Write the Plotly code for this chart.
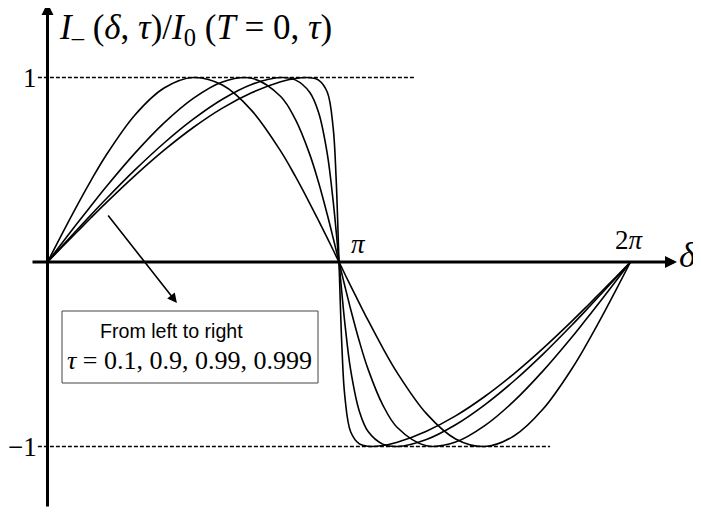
import plotly.graph_objects as go

# phase difference delta, in units of pi
delta = [0, 0.05, 0.1, 0.15, 0.2, 0.3, 0.4, 0.5, 0.6, 0.7, 0.8, 0.85, 0.9, 0.93, 0.96, 0.98, 0.99, 1.0,
         1.01, 1.02, 1.04, 1.07, 1.1, 1.15, 1.2, 1.3, 1.4, 1.5, 1.6, 1.7, 1.8, 1.85, 1.9, 1.95, 2.0]

# I_-(delta, tau) / I_0(T=0, tau)
cur_t01 = [0, 0.153, 0.302, 0.444, 0.576, 0.797, 0.943, 1.000, 0.959, 0.822, 0.601, 0.465, 0.317, 0.224, 0.129, 0.065, 0.032, 0,
           -0.032, -0.065, -0.129, -0.224, -0.317, -0.465, -0.601, -0.822, -0.959, -1.000, -0.943, -0.797, -0.576, -0.444, -0.302, -0.153, 0]
cur_t09 = [0, 0.103, 0.206, 0.306, 0.405, 0.590, 0.754, 0.887, 0.976, 0.996, 0.897, 0.774, 0.582, 0.431, 0.256, 0.130, 0.065, 0,
           -0.065, -0.130, -0.256, -0.431, -0.582, -0.774, -0.897, -0.996, -0.976, -0.887, -0.754, -0.590, -0.405, -0.306, -0.206, -0.103, 0]
cur_t099 = [0, 0.086, 0.172, 0.257, 0.340, 0.499, 0.645, 0.774, 0.882, 0.962, 1.000, 0.987, 0.919, 0.810, 0.585, 0.330, 0.171, 0,
            -0.171, -0.330, -0.585, -0.810, -0.919, -0.987, -1.000, -0.962, -0.882, -0.774, -0.645, -0.499, -0.340, -0.257, -0.172, -0.086, 0]
cur_t0999 = [0, 0.081, 0.161, 0.241, 0.319, 0.468, 0.606, 0.729, 0.834, 0.917, 0.977, 0.995, 0.999, 0.986, 0.920, 0.727, 0.459, 0,
             -0.459, -0.727, -0.920, -0.986, -0.999, -0.995, -0.977, -0.917, -0.834, -0.729, -0.606, -0.468, -0.319, -0.241, -0.161, -0.081, 0]

curves = {"0.1": cur_t01, "0.9": cur_t09, "0.99": cur_t099, "0.999": cur_t0999}

# the page body has an 8px margin, so the figure is shrunk by that much
OFF = 8
W, H = 701 - OFF, 513 - OFF
SERIF = "Liberation Serif, Times New Roman, serif"
SANS = "Liberation Sans, Arial, sans-serif"
NB = "\u00a0"


def px(x, y):
    # window pixel position -> paper coords (margins are zero)
    return (x - OFF) / W, 1 - (y - OFF) / H


fig = go.Figure()

# dashed reference levels at +1 / -1
fig.add_trace(go.Scatter(x=[-0.033, 1.261], y=[1, 1], mode="lines",
                         line=dict(color="black", width=1.5, dash="4px,2px"), hoverinfo="skip"))
fig.add_trace(go.Scatter(x=[-0.033, 1.724], y=[-1, -1], mode="lines",
                         line=dict(color="black", width=1.5, dash="4px,2px"), hoverinfo="skip"))

for t, vals in curves.items():
    fig.add_trace(go.Scatter(x=delta, y=vals, mode="lines", name="tau=" + t,
                             line=dict(color="black", width=1.6, shape="spline")))

annotations = []
# axes with arrow heads
annotations.append(dict(x=2.1595, y=0, ax=-0.0566, ay=0, xref="x", yref="y", axref="x", ayref="y",
                        showarrow=True, arrowhead=2, arrowsize=0.8, arrowwidth=3, arrowcolor="black", text=""))
annotations.append(dict(x=0, y=1.4038, ax=0, ay=-1.333, xref="x", yref="y", axref="x", ayref="y",
                        showarrow=True, arrowhead=2, arrowsize=0.8, arrowwidth=3, arrowcolor="black", text=""))
# pointer arrow towards the note box
annotations.append(dict(x=0.444, y=-0.222, ax=0.204, ay=0.260, xref="x", yref="y", axref="x", ayref="y",
                        showarrow=True, arrowhead=2, arrowsize=1.2, arrowwidth=1.6, arrowcolor="black", text=""))


def label(text, x, y, size, family=SERIF, xanchor="center"):
    xx, yy = px(x, y)
    annotations.append(dict(x=xx, y=yy, xref="paper", yref="paper", text=text, showarrow=False,
                            xanchor=xanchor, yanchor="middle", font=dict(family=family, size=size, color="black")))


label("<i>I</i><sub>\u2013</sub>" + NB + "(<i>\u03b4</i>," + NB + "<i>\u03c4</i>)/<i>I</i><sub>0</sub>" + NB
      + "(<i>T</i>" + NB + "=" + NB + "0," + NB + "<i>\u03c4</i>)",
      57, 29, 35, xanchor="left")
label("1", 39, 78, 27, xanchor="right")
label("\u22121", 39, 447, 27, xanchor="right")
label("<i>\u03c0</i>", 358, 244, 27)
label("2<i>\u03c0</i>", 629, 240, 27)
label("<i>\u03b4</i>", 688, 255, 36)
label("From left to right", 171, 331, 19.6, family=SANS)
label("<i>\u03c4</i> = 0.1, 0.9, 0.99, 0.999", 189, 360, 26)

x0, y0 = px(62, 311)
x1, y1 = px(318, 383)
fig.add_shape(type="rect", xref="paper", yref="paper", x0=x0, y0=y0, x1=x1, y1=y1,
              line=dict(color="#444444", width=1), fillcolor="white", layer="below")

fig.update_layout(
    width=W, height=H,
    margin=dict(l=0, r=0, t=0, b=0),
    paper_bgcolor="white", plot_bgcolor="white",
    showlegend=False,
    annotations=annotations,
    xaxis=dict(visible=False, range=[(OFF - 47.5) / 291.5, 2.2419], fixedrange=True),
    yaxis=dict(visible=False, range=[-1.3604, (262 - OFF) / 184.5], fixedrange=True),
)

fig.write_html("out.html")
